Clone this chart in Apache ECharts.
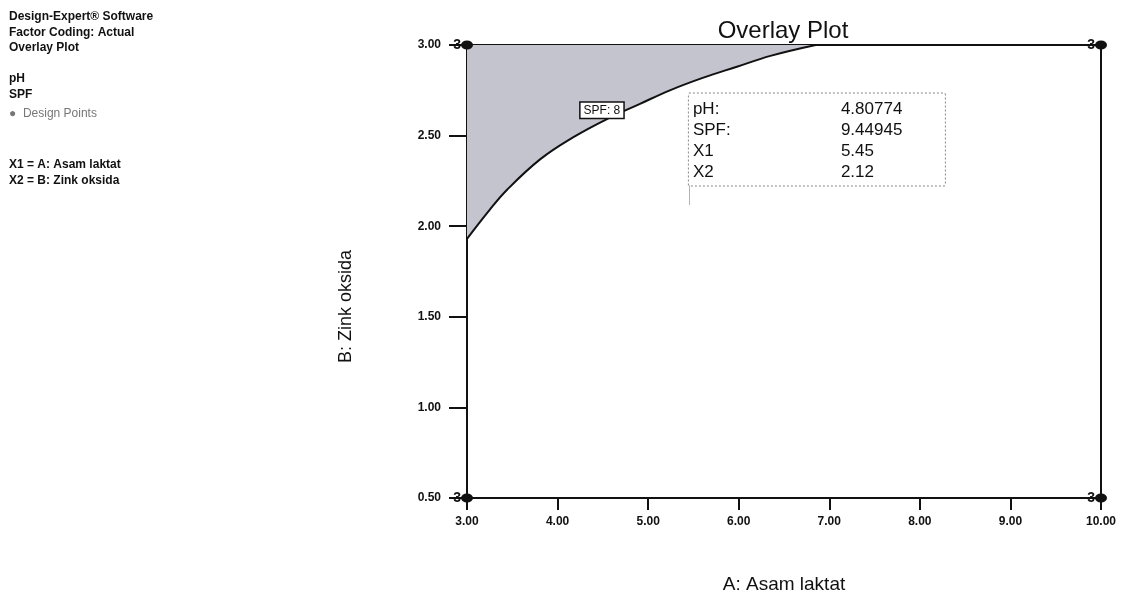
<!DOCTYPE html>
<html>
<head>
<meta charset="utf-8">
<script src="https://cdn.jsdelivr.net/npm/echarts@6/dist/echarts.min.js"></script>
<style>
  html, body { margin: 0; padding: 0; background: #fff; }
  #chart { width: 1124px; height: 595px; }
</style>
</head>
<body>
<div id="chart"></div>
<script>
// SPF = 8 contour (A: Asam laktat vs B: Zink oksida)
const curveA = [3.00, 3.25, 3.44, 3.81, 4.17, 4.54, 4.91, 5.24, 5.61, 5.98, 6.35, 6.85]
const curveB = [1.93, 2.09, 2.20, 2.37, 2.49, 2.59, 2.675, 2.75, 2.82, 2.88, 2.94, 3.00]

// design points (corners), each run 3 times
const designA = [3, 3, 10, 10]
const designB = [3, 0.5, 3, 0.5]
const designRuns = [3, 3, 3, 3]

// flag
const flagPoint = [5.45, 2.12]
const flagTop = 2.225
const flagNames = ['pH:', 'SPF:', 'X1', 'X2']
const flagValues = ['4.80774', '9.44945', '5.45', '2.12']

const contourLabel = 'SPF: 8'
const contourLabelAt = [4.49, 2.64]

const sideLines = [
  'Design-Expert® Software', 'Factor Coding: Actual', 'Overlay Plot', '',
  'pH', 'SPF'
]
const factorLines = ['X1 = A: Asam laktat', 'X2 = B: Zink oksida']

const font = "'Liberation Sans', Arial, sans-serif"
const narrow = "'Liberation Sans Narrow', 'Arial Narrow', 'Liberation Sans', Arial, sans-serif"

const chart = echarts.init(document.getElementById('chart'), null, { renderer: 'canvas' })

const flagText = flagNames.map((n, i) => `{n|${n}}{v|${flagValues[i]}}`).join('\n')

const option = {
  backgroundColor: '#fff',
  animation: false,
  title: {
    text: 'Overlay Plot',
    left: 778,
    top: 14,
    textAlign: 'center',
    textStyle: { fontFamily: font, fontSize: 24, fontWeight: 'normal', color: '#111' },
  },
  graphic: [
    {
      type: 'text', left: 9, top: 9,
      style: {
        text: sideLines.join('\n'), fontFamily: narrow, fontSize: 12, fontWeight: 'bold',
        lineHeight: 15.5, fill: '#111',
      },
    },
    {
      type: 'text', left: 9, top: 108,
      style: { text: '●  Design Points', fontFamily: narrow, fontSize: 12, fill: '#777' },
    },
    {
      type: 'text', left: 9, top: 157,
      style: {
        text: factorLines.join('\n'), fontFamily: narrow, fontSize: 12, fontWeight: 'bold',
        lineHeight: 16, fill: '#111',
      },
    },
  ],
  grid: {
    left: 467, right: 23, top: 45, bottom: 97,
    outerBoundsMode: 'none',
    show: true, borderColor: '#111', borderWidth: 2, backgroundColor: 'transparent',
  },
  xAxis: {
    type: 'value', min: 3, max: 10, interval: 1,
    name: 'A: Asam laktat', nameLocation: 'middle', nameGap: 77,
    nameTextStyle: { fontFamily: font, fontSize: 19, color: '#111' },
    axisLine: { lineStyle: { color: '#111', width: 2 } },
    axisTick: { inside: false, length: 12, lineStyle: { color: '#111', width: 2 } },
    axisLabel: {
      margin: 18, fontFamily: narrow, fontSize: 12, fontWeight: 'bold', color: '#111',
      formatter: v => v.toFixed(2),
    },
    splitLine: { show: false },
  },
  yAxis: {
    type: 'value', min: 0.5, max: 3, interval: 0.5,
    name: 'B: Zink oksida', nameLocation: 'middle', nameGap: 112,
    nameTextStyle: { fontFamily: font, fontSize: 18, color: '#111', padding: [0, 70, 0, 0] },
    axisLine: { lineStyle: { color: '#111', width: 2 } },
    axisTick: { inside: false, length: 18, lineStyle: { color: '#111', width: 2 } },
    axisLabel: {
      margin: 26, fontFamily: narrow, fontSize: 12, fontWeight: 'bold', color: '#111',
      formatter: v => v.toFixed(2),
    },
    splitLine: { show: false },
  },
  series: [
    {
      name: 'SPF',
      type: 'line',
      data: curveA.map((a, i) => [a, curveB[i]]),
      smooth: 0.4,
      symbol: 'none',
      lineStyle: { color: '#111', width: 2 },
      areaStyle: { origin: 'end', color: '#c3c4cd', opacity: 1 },
      z: 2,
    },
    {
      name: 'Design Points',
      type: 'scatter',
      data: designA.map((a, i) => [a, designB[i], designRuns[i]]),
      symbol: 'circle',
      symbolSize: [12, 9],
      itemStyle: { color: '#111', opacity: 1 },
      clip: false,
      label: {
        show: true, position: 'left', distance: 0,
        formatter: p => String(p.value[2]),
        fontFamily: font, fontSize: 14, fontWeight: 'bold', color: '#111',
      },
      z: 5,
    },
    {
      name: 'contour label',
      type: 'scatter',
      data: [contourLabelAt],
      symbolSize: 0,
      itemStyle: { opacity: 1 },
      label: {
        show: true, position: 'inside', formatter: contourLabel,
        fontFamily: narrow, fontSize: 12, color: '#111',
        backgroundColor: '#fff', borderColor: '#111', borderWidth: 1.5,
        padding: [2, 3, 1, 3],
      },
      z: 6,
    },
    {
      name: 'flag',
      type: 'scatter',
      data: [[flagPoint[0], flagTop]],
      symbolSize: 0,
      itemStyle: { opacity: 1 },
      label: {
        show: true, position: [0, 0], verticalAlign: 'bottom', align: 'left',
        formatter: flagText,
        backgroundColor: '#fff', borderColor: '#888', borderWidth: 1, borderType: 'dotted',
        padding: [5, 4, 3, 4],
        rich: {
          n: { fontFamily: font, fontSize: 17, color: '#111', width: 148, lineHeight: 21 },
          v: { fontFamily: font, fontSize: 17, color: '#111', width: 100, lineHeight: 21 },
        },
      },
      markLine: {
        symbol: 'none',
        silent: true,
        label: { show: false },
        lineStyle: { color: '#666', width: 1, type: 'dotted' },
        data: [[{ coord: flagPoint }, { coord: [flagPoint[0], flagTop] }]],
      },
      z: 6,
    },
  ],
}

chart.setOption(option)
</script>
</body>
</html>
